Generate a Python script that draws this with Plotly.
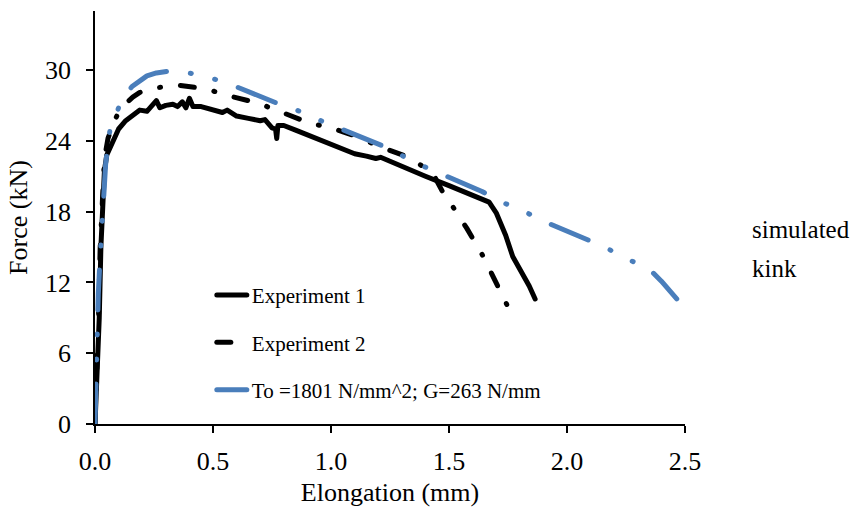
import plotly.graph_objects as go

# Experiment 1 (solid): elongation [mm], force [kN]
exp1_x = [0.000, 0.010, 0.018, 0.025, 0.032, 0.040, 0.050, 0.064, 0.080, 0.100,
          0.130, 0.160, 0.190, 0.220, 0.240, 0.260, 0.275, 0.300, 0.330, 0.350,
          0.370, 0.385, 0.400, 0.415, 0.450, 0.500, 0.540, 0.560, 0.600, 0.650,
          0.700, 0.720, 0.750, 0.765, 0.770, 0.775, 0.800, 0.850, 0.900, 0.950,
          1.000, 1.050, 1.100, 1.150, 1.190, 1.210, 1.300, 1.400, 1.500, 1.600,
          1.670, 1.700, 1.740, 1.770, 1.810, 1.840, 1.865]
exp1_y = [0.0, 4.0, 9.0, 15.0, 19.0, 21.5, 22.8, 23.4, 24.2, 25.0,
          25.7, 26.2, 26.6, 26.5, 26.9, 27.4, 26.8, 27.0, 27.1, 26.9,
          27.3, 26.8, 27.6, 26.9, 26.9, 26.6, 26.4, 26.6, 26.1, 25.9,
          25.7, 25.8, 25.1, 25.0, 24.2, 25.3, 25.3, 24.9, 24.5, 24.1,
          23.7, 23.3, 22.9, 22.7, 22.5, 22.6, 21.8, 21.0, 20.2, 19.4,
          18.8, 17.9, 16.0, 14.2, 12.8, 11.7, 10.6]

# Experiment 2 (dash-dot)
exp2_x = [0.000, 0.008, 0.015, 0.022, 0.030, 0.040, 0.055, 0.080, 0.100, 0.127,
          0.160, 0.190, 0.260, 0.360, 0.470, 0.570, 0.690, 0.800, 0.910, 1.000,
          1.090, 1.220, 1.330, 1.430, 1.450, 1.475, 1.520, 1.575, 1.645, 1.700,
          1.770]
exp2_y = [0.0, 4.0, 9.0, 15.0, 19.5, 22.5, 24.2, 25.6, 26.4, 27.1,
          27.7, 28.1, 28.5, 28.7, 28.4, 27.8, 27.2, 26.4, 25.5, 25.1,
          24.5, 23.4, 22.6, 21.3, 20.6, 19.6, 18.3, 16.6, 14.2, 12.0,
          9.1]

# Simulation (To = 1801 N/mm^2, G = 263 N/mm)
sim_x = [0.000, 0.003, 0.008, 0.014, 0.020, 0.025, 0.030, 0.036, 0.045, 0.052,
         0.064, 0.100, 0.130, 0.157, 0.190, 0.220, 0.260, 0.310, 0.360, 0.410,
         0.510, 0.590, 0.770, 0.855, 0.945, 1.040, 1.215, 1.385, 1.475, 1.640,
         1.725, 1.820, 1.910, 2.070, 2.160, 2.250, 2.340, 2.400, 2.465]
sim_y = [0.0, 3.8, 7.5, 11.0, 13.5, 15.4, 17.5, 19.5, 22.0, 23.2,
         25.0, 26.8, 27.9, 28.6, 29.1, 29.5, 29.75, 29.9, 29.85, 29.7,
         29.2, 28.65, 27.2, 26.6, 25.8, 25.0, 23.6, 21.9, 21.1, 19.7,
         18.8, 18.0, 17.1, 15.7, 15.0, 14.0, 13.3, 12.1, 10.6]

x_ticks = [0.0, 0.5, 1.0, 1.5, 2.0, 2.5]
y_ticks = [0, 6, 12, 18, 24, 30]

FONT = "Liberation Serif"
BLUE = "#4a7ebb"

fig = go.Figure()
fig.add_trace(go.Scatter(
    x=exp1_x, y=exp1_y, mode="lines", name="Experiment 1", legendgroup="a",
    line=dict(color="black", width=5)))
fig.add_trace(go.Scatter(
    x=exp2_x, y=exp2_y, mode="lines", name="Experiment 2", legendgroup="b",
    line=dict(color="black", width=5, dash="14px,20px,1px,20px")))
fig.add_trace(go.Scatter(
    x=sim_x, y=sim_y, mode="lines", name="To =1801 N/mm^2; G=263 N/mm",
    legendgroup="c",
    line=dict(color=BLUE, width=5, dash="40px,24px,1px,24px,1px,24px")))

fig.update_layout(
    width=858, height=513,
    margin=dict(l=95, r=173, t=11, b=87),
    paper_bgcolor="white", plot_bgcolor="white",
    font=dict(family=FONT, size=26, color="black"),
    showlegend=True,
    legend=dict(
        x=0.198, y=0.361, xanchor="left", yanchor="top",
        font=dict(family=FONT, size=21, color="black"),
        bgcolor="rgba(0,0,0,0)", borderwidth=0,
        tracegroupgap=17, itemwidth=30,
    ),
    xaxis=dict(
        range=[0, 2.5], tickvals=x_ticks, tickformat=".1f",
        showgrid=False, zeroline=False, showline=True, linecolor="black",
        linewidth=1.5, ticks="outside", ticklen=7, tickwidth=1.5,
        tickcolor="black", ticklabelstandoff=6,
        tickfont=dict(family=FONT, size=26, color="black"),
        title=dict(text="Elongation (mm)", standoff=8,
                   font=dict(family=FONT, size=26, color="black")),
    ),
    yaxis=dict(
        range=[0, 35], tickvals=y_ticks,
        showgrid=False, zeroline=False, showline=True, linecolor="black",
        linewidth=1.5, ticks="outside", ticklen=7, tickwidth=1.5,
        tickcolor="black", ticklabelstandoff=10,
        tickfont=dict(family=FONT, size=26, color="black"),
        title=dict(text="Force (kN)", standoff=10,
                   font=dict(family=FONT, size=26, color="black")),
    ),
)

fig.add_annotation(text="simulated", x=1.11, y=0.472, xref="paper", yref="paper",
                   xanchor="left", yanchor="middle", showarrow=False,
                   font=dict(family=FONT, size=25, color="black"))
fig.add_annotation(text="kink", x=1.11, y=0.376, xref="paper", yref="paper",
                   xanchor="left", yanchor="middle", showarrow=False,
                   font=dict(family=FONT, size=25, color="black"))

# round line caps so the dash pattern ends in dots
round_caps = ("var s=document.createElement('style');"
              "s.textContent='path.js-line{stroke-linecap:round;stroke-linejoin:round}';"
              "document.head.appendChild(s);")

fig.write_html("out.html", post_script=round_caps)
